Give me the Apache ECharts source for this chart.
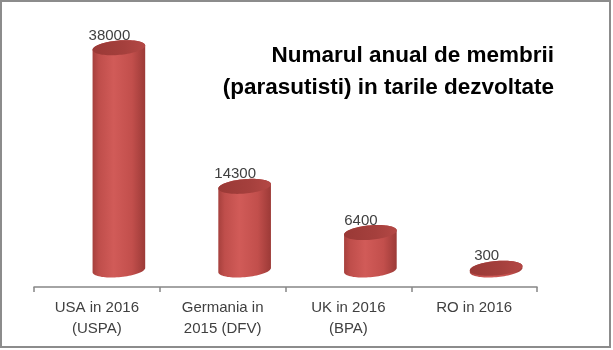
<!DOCTYPE html>
<html>
<head>
<meta charset="utf-8">
<script src="https://cdn.jsdelivr.net/npm/echarts@6/dist/echarts.min.js"></script>
<style>html,body{margin:0;padding:0;background:#fff}#c{width:613px;height:350px}</style>
</head>
<body>
<div id="c"></div>
<script>
const categories = ["USA in 2016\n(USPA)", "Germania in\n2015 (DFV)", "UK in 2016\n(BPA)", "RO in 2016"];
const values = [38000, 14300, 6400, 300];
const titleLines = ["Numarul anual de membrii", "(parasutisti) in tarile dezvoltate"];

const chart = echarts.init(document.getElementById('c'), null, {renderer: 'canvas'});
const FONT = 'Liberation Sans';

function ellPt(cx, cy, a, b, phi, t) {
  return [cx + a * Math.cos(t) * Math.cos(phi) + b * Math.sin(t) * Math.sin(phi),
          cy - a * Math.cos(t) * Math.sin(phi) + b * Math.sin(t) * Math.cos(phi)];
}
function arc(cx, cy, a, b, phi, t1, t2, n) {
  const pts = [];
  for (let i = 0; i <= n; i++) pts.push(ellPt(cx, cy, a, b, phi, t1 + (t2 - t1) * i / n));
  return pts;
}

function renderItem(params, api) {
  const idx = api.value(0), val = api.value(1);
  const base = api.coord([idx, 0]);
  const top = api.coord([idx, val]);
  const bw = api.size([1, 0])[0];
  const cx = base[0] + bw * 0.175;
  const a = bw * 0.21, b = 7.2, phi = 5 * Math.PI / 180;
  const t0 = Math.atan2(b * Math.sin(phi), a * Math.cos(phi));
  const bottomArc = arc(cx, base[1], a, b, phi, t0, t0 + Math.PI, 40);
  const topArc = arc(cx, top[1], a, b, phi, t0 + Math.PI, t0 + 2 * Math.PI, 40);
  const body = bottomArc.concat(topArc);
  const topFull = arc(cx, top[1], a, b, phi, 0, 2 * Math.PI, 80);
  const bodyGrad = new echarts.graphic.LinearGradient(0, 0, 1, 0, [
    {offset: 0, color: '#a6403d'},
    {offset: 0.12, color: '#bf4e4b'},
    {offset: 0.4, color: '#d15b58'},
    {offset: 0.75, color: '#c24f4c'},
    {offset: 1, color: '#9c3a37'}
  ]);
  const topGrad = new echarts.graphic.LinearGradient(0, 0, 1, 0, [
    {offset: 0, color: '#9a3936'},
    {offset: 0.6, color: '#a5403d'},
    {offset: 1, color: '#b44845'}
  ]);
  return {
    type: 'group',
    children: [
      {type: 'polygon', shape: {points: body}, style: {fill: bodyGrad}},
      {type: 'polygon', shape: {points: topFull}, style: {fill: topGrad}},
      {type: 'text', x: base[0] + bw * 0.1, y: top[1] - b + 2.5,
        style: {text: String(val), fontSize: 15, fontFamily: FONT, fill: '#404040',
          align: 'center', verticalAlign: 'bottom'}}
    ]
  };
}

const titleStyle = {fontFamily: FONT, fontWeight: 'bold', fontSize: 22.5, lineHeight: 32, color: '#000000'};
chart.setOption({
  animation: false,
  backgroundColor: '#ffffff',
  title: titleLines.map((t, i) => ({
    text: t, right: 59, top: 40 + i * 32, padding: 0, textStyle: titleStyle
  })),
  grid: {left: 34, right: 76, top: 36, bottom: 80},
  xAxis: {
    type: 'category', data: categories, offset: 17,
    axisLine: {onZero: false, lineStyle: {color: '#868686', width: 1.5}},
    axisTick: {show: true, length: 5, lineStyle: {color: '#868686', width: 1.5}},
    axisLabel: {interval: 0, fontSize: 15, fontFamily: FONT, color: '#404040', lineHeight: 21, margin: 10}
  },
  yAxis: {type: 'value', min: 0, max: 40000, show: false, splitLine: {show: false}},
  series: [{
    type: 'custom',
    renderItem: renderItem,
    data: values.map((v, i) => [i, v]),
    encode: {x: 0, y: 1},
    clip: false
  }],
  graphic: [{
    type: 'rect', shape: {x: 1, y: 1, width: 609, height: 346},
    style: {fill: 'none', stroke: '#8c8c8c', lineWidth: 2}, silent: true
  }]
});
</script>
</body>
</html>
